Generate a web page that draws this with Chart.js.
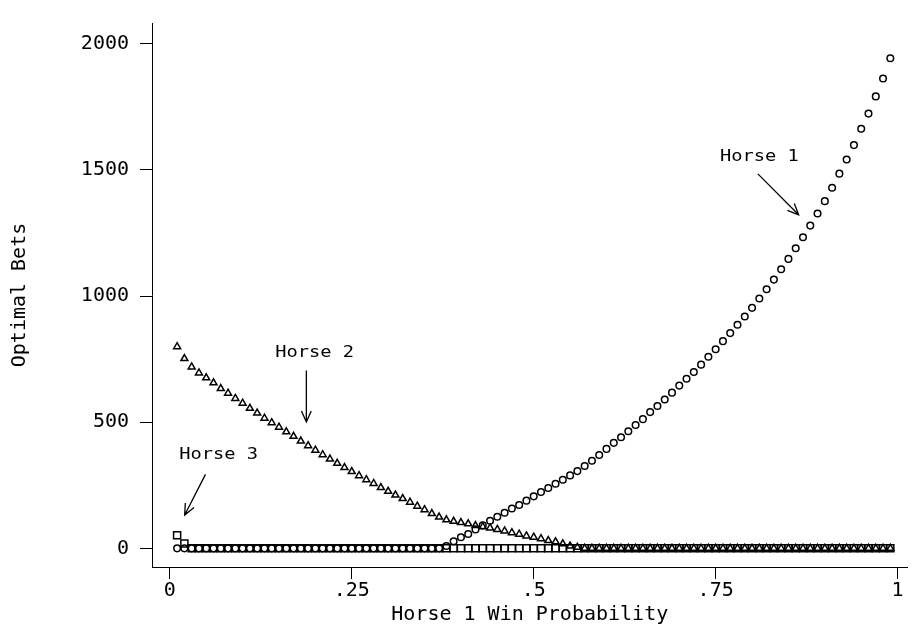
<!DOCTYPE html>
<html>
<head>
<meta charset="utf-8">
<script src="https://cdn.jsdelivr.net/npm/chart.js@4/dist/chart.umd.min.js"></script>
<style>
  html, body { margin: 0; padding: 0; background: #fff; }
  #wrap { width: 914px; height: 628px; }
</style>
</head>
<body>
<div id="wrap"><canvas id="betsChart" width="914" height="628"></canvas></div>
<script>
/* horse 1 win probability (x) */
const winProb = [
  .01, .02, .03, .04, .05, .06, .07, .08, .09, .10,
  .11, .12, .13, .14, .15, .16, .17, .18, .19, .20,
  .21, .22, .23, .24, .25, .26, .27, .28, .29, .30,
  .31, .32, .33, .34, .35, .36, .37, .38, .39, .40,
  .41, .42, .43, .44, .45, .46, .47, .48, .49, .50,
  .51, .52, .53, .54, .55, .56, .57, .58, .59, .60,
  .61, .62, .63, .64, .65, .66, .67, .68, .69, .70,
  .71, .72, .73, .74, .75, .76, .77, .78, .79, .80,
  .81, .82, .83, .84, .85, .86, .87, .88, .89, .90,
  .91, .92, .93, .94, .95, .96, .97, .98, .99
];

/* optimal bets per horse */
const horse1Bets = [
  0, 0, 0, 0, 0, 0, 0, 0, 0, 0,
  0, 0, 0, 0, 0, 0, 0, 0, 0, 0,
  0, 0, 0, 0, 0, 0, 0, 0, 0, 0,
  0, 0, 0, 0, 0, 0, 0, 9, 28, 44,
  57, 75, 91, 109, 125, 141, 158, 172, 189, 206,
  223, 239, 256, 272, 289, 306, 326, 347, 370, 394,
  418, 440, 464, 489, 512, 540, 564, 590, 617, 645,
  672, 699, 728, 759, 789, 821, 853, 886, 919, 953,
  990, 1027, 1065, 1106, 1147, 1189, 1233, 1279, 1327, 1376,
  1429, 1485, 1541, 1598, 1663, 1723, 1791, 1862, 1942
];
const horse2Bets = [
  799, 752, 719, 695, 676, 656, 633, 615, 594, 575,
  555, 536, 516, 498, 480, 462, 444, 425, 407, 389,
  371, 354, 337, 320, 304, 288, 272, 257, 241, 226,
  211, 197, 183, 167, 153, 138, 124, 113, 107, 102,
  97, 90, 86, 81, 75, 69, 62, 56, 49, 44,
  38, 31, 26, 18, 9, 4, 0, 0, 0, 0,
  0, 0, 0, 0, 0, 0, 0, 0, 0, 0,
  0, 0, 0, 0, 0, 0, 0, 0, 0, 0,
  0, 0, 0, 0, 0, 0, 0, 0, 0, 0,
  0, 0, 0, 0, 0, 0, 0, 0, 0
];
const horse3Bets = [
  52, 19, 0, 0, 0, 0, 0, 0, 0, 0,
  0, 0, 0, 0, 0, 0, 0, 0, 0, 0,
  0, 0, 0, 0, 0, 0, 0, 0, 0, 0,
  0, 0, 0, 0, 0, 0, 0, 0, 0, 0,
  0, 0, 0, 0, 0, 0, 0, 0, 0, 0,
  0, 0, 0, 0, 0, 0, 0, 0, 0, 0,
  0, 0, 0, 0, 0, 0, 0, 0, 0, 0,
  0, 0, 0, 0, 0, 0, 0, 0, 0, 0,
  0, 0, 0, 0, 0, 0, 0, 0, 0, 0,
  0, 0, 0, 0, 0, 0, 0, 0, 0
];

const xTickValues = [0, .25, .5, .75, 1];
const xTickLabels = ['0', '.25', '.5', '.75', '1'];
const yTickValues = [0, 500, 1000, 1500, 2000];

/* labels with arrows, in data units */
const noteText = ['Horse 1', 'Horse 2', 'Horse 3'];
const noteTextAt = [[0.810, 1553], [0.199, 775], [0.067, 370]];
const noteArrow = [
  [0.808, 1484, 0.864, 1322],
  [0.1876, 705, 0.1876, 501],
  [0.049, 293, 0.0204, 132]
];

const FONT = '"DejaVu Sans Mono", monospace';

function toPoints(ys) {
  return winProb.map((p, i) => ({ x: p, y: ys[i] }));
}

/* texte + flèches */
const horseNotes = {
  id: 'horseNotes',
  afterDatasetsDraw(chart) {
    const { ctx, scales } = chart;
    const xs = scales.x, ys = scales.y;
    ctx.save();
    ctx.fillStyle = '#000';
    ctx.strokeStyle = '#000';
    ctx.lineWidth = 1.3;
    ctx.font = '16px ' + FONT;
    ctx.textAlign = 'center';
    ctx.textBaseline = 'middle';
    noteText.forEach((t, i) => {
      const px = xs.getPixelForValue(noteTextAt[i][0]);
      const py = ys.getPixelForValue(noteTextAt[i][1]);
      ctx.save();
      ctx.translate(px, py);
      ctx.scale(1.17, 1);
      ctx.fillText(t, 0, 0);
      ctx.restore();

      const a = noteArrow[i];
      const x0 = xs.getPixelForValue(a[0]), y0 = ys.getPixelForValue(a[1]);
      const x1 = xs.getPixelForValue(a[2]), y1 = ys.getPixelForValue(a[3]);
      const ang = Math.atan2(y1 - y0, x1 - x0);
      const head = 12, spread = 0.42;
      ctx.beginPath();
      ctx.moveTo(x0, y0);
      ctx.lineTo(x1, y1);
      ctx.moveTo(x1 - head * Math.cos(ang - spread), y1 - head * Math.sin(ang - spread));
      ctx.lineTo(x1, y1);
      ctx.lineTo(x1 - head * Math.cos(ang + spread), y1 - head * Math.sin(ang + spread));
      ctx.stroke();
    });
    ctx.restore();
  }
};

const markerBase = {
  showLine: false,
  backgroundColor: 'rgba(0,0,0,0)',
  borderColor: '#000',
  borderWidth: 1.5
};

new Chart(document.getElementById('betsChart').getContext('2d'), {
  type: 'scatter',
  data: {
    datasets: [
      Object.assign({ label: 'Horse 1', data: toPoints(horse1Bets), pointStyle: 'circle', pointRadius: 3.3 }, markerBase),
      Object.assign({ label: 'Horse 2', data: toPoints(horse2Bets), pointStyle: 'triangle', pointRadius: 4 }, markerBase),
      Object.assign({ label: 'Horse 3', data: toPoints(horse3Bets), pointStyle: 'rect', pointRadius: 5 }, markerBase)
    ]
  },
  options: {
    responsive: false,
    animation: false,
    devicePixelRatio: 1,
    layout: { padding: { top: 13, right: 0, bottom: 0, left: 0 } },
    plugins: {
      legend: { display: false },
      tooltip: { enabled: false }
    },
    scales: {
      x: {
        type: 'linear',
        min: -0.0245,
        max: 1.0136,
        afterBuildTicks: s => { s.ticks = xTickValues.map(v => ({ value: v })); },
        afterFit: s => { s.height = 61; },
        ticks: {
          color: '#000',
          font: { family: FONT, size: 20 },
          padding: 0,
          maxRotation: 0,
          callback: v => xTickLabels[xTickValues.indexOf(v)]
        },
        grid: { display: true, drawOnChartArea: false, drawTicks: true, tickLength: 12, color: '#000', lineWidth: 1 },
        border: { display: true, color: '#000', width: 1 },
        title: {
          display: true,
          text: 'Horse 1 Win Probability',
          color: '#000',
          font: { family: FONT, size: 20 },
          padding: { top: 0, bottom: 1.5 }
        }
      },
      y: {
        type: 'linear',
        min: -74,
        max: 2082,
        afterBuildTicks: s => { s.ticks = yTickValues.map(v => ({ value: v })); },
        afterFit: s => { s.width = 152; },
        ticks: {
          color: '#000',
          font: { family: FONT, size: 20 },
          padding: 11,
          callback: v => String(v)
        },
        grid: { display: true, drawOnChartArea: false, drawTicks: true, tickLength: 12, color: '#000', lineWidth: 1 },
        border: { display: true, color: '#000', width: 1 },
        title: {
          display: true,
          text: 'Optimal Bets',
          color: '#000',
          font: { family: FONT, size: 20 },
          padding: { top: 8, bottom: 0 }
        }
      }
    }
  },
  plugins: [horseNotes]
});
</script>
</body>
</html>
